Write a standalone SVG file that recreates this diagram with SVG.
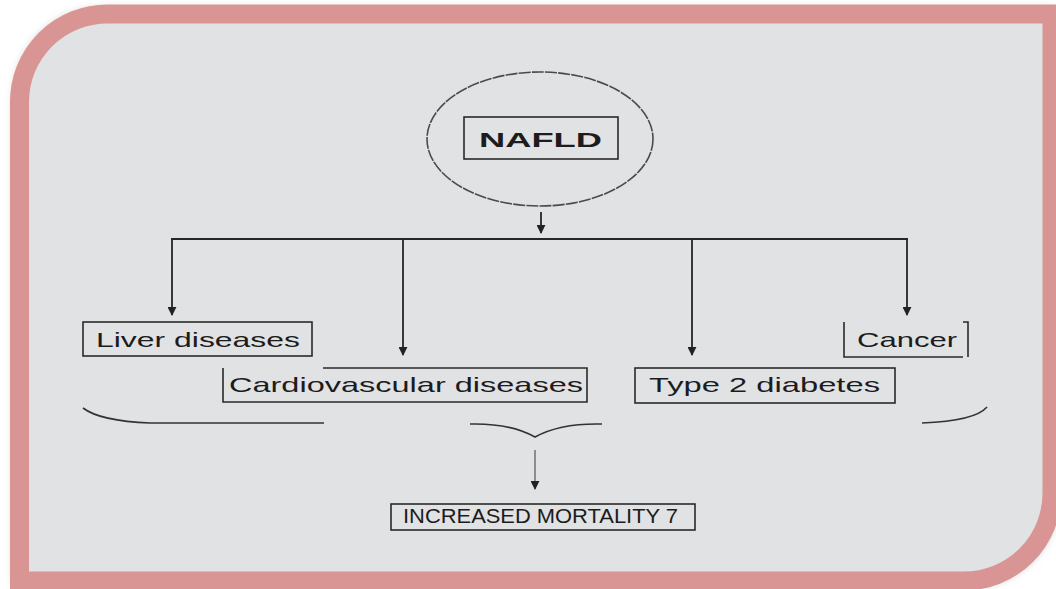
<svg xmlns="http://www.w3.org/2000/svg" width="1056" height="589" viewBox="0 0 1056 589">
<defs>
<filter id="sh" x="-5%" y="-5%" width="110%" height="110%"><feGaussianBlur stdDeviation="5"/></filter>
<marker id="ah" viewBox="0 0 10 10" refX="9" refY="5" markerWidth="9" markerHeight="9" markerUnits="userSpaceOnUse" orient="auto">
<path d="M0,0 L10,5 L0,10 Z" fill="#222"/>
</marker>
</defs>
<style>
.box{fill:none;stroke:#2a2a2a;stroke-width:1.6}
.lbl{font-family:"Liberation Sans",Arial,sans-serif;fill:#1c1c1c;font-size:21px}
.ln{fill:none;stroke:#262626;stroke-width:1.8}
.br{fill:none;stroke:#333;stroke-width:1.6}
</style>
<rect width="1056" height="589" fill="#ffffff"/>
<path d="M19.5,102 A88,88 0 0 1 107.5,14 H1060 V493 A88,88 0 0 1 972,589 H19.5 Z" fill="#a0a0a0" filter="url(#sh)" transform="translate(-4,-4)"/>
<path id="frame" d="M19.5,102 A88,88 0 0 1 107.5,14 H1052 V493 A88,88 0 0 1 964,581 H19.5 Z" fill="#e1e2e4" stroke="#d99594" stroke-width="19"/>
<g id="connectors">
<line class="ln" x1="541" y1="212" x2="541" y2="233" marker-end="url(#ah)"/>
<line class="ln" x1="171" y1="239" x2="908" y2="239"/>
<line class="ln" x1="172" y1="239" x2="172" y2="315" marker-end="url(#ah)"/>
<line class="ln" x1="403" y1="239" x2="403" y2="355" marker-end="url(#ah)"/>
<line class="ln" x1="692" y1="239" x2="692" y2="355" marker-end="url(#ah)"/>
<line class="ln" x1="907" y1="239" x2="907" y2="315" marker-end="url(#ah)"/>
<path class="br" d="M83,408 Q100,421 150,423 H324"/>
<path class="br" d="M922,423 Q975,421 987,407"/>
<path class="br" d="M470,424 Q510,423 535,437 Q560,423 602,424"/>
<line x1="535" y1="450" x2="535" y2="489" stroke="#555" stroke-width="1.2" marker-end="url(#ah)"/>
</g>
<g id="nafld">
<ellipse cx="540" cy="139" rx="113" ry="67" fill="none" stroke="#4a4a4a" stroke-width="1.6" stroke-dasharray="12 1.2"/>
<rect class="box" x="464" y="117" width="154" height="42"/>
<text class="lbl" x="479" y="147" font-size="25" font-weight="bold" textLength="123" lengthAdjust="spacingAndGlyphs">NAFLD</text>
</g>
<g id="liver">
<rect class="box" x="83" y="322" width="229" height="34"/>
<text class="lbl" x="96" y="347" textLength="204" lengthAdjust="spacingAndGlyphs">Liver diseases</text>
</g>
<g id="cardio">
<path class="box" d="M223,368 V402 H587 V368 H323"/>
<text class="lbl" x="229" y="392" textLength="354" lengthAdjust="spacingAndGlyphs">Cardiovascular diseases</text>
</g>
<g id="diabetes">
<rect class="box" x="635" y="368" width="260" height="35"/>
<text class="lbl" x="649" y="392" textLength="231" lengthAdjust="spacingAndGlyphs">Type 2 diabetes</text>
</g>
<g id="cancer">
<path class="box" d="M844,322 V357 H963 M963,322 H968 V357"/>
<text class="lbl" x="857" y="347" textLength="100" lengthAdjust="spacingAndGlyphs">Cancer</text>
</g>
<g id="mortality">
<rect class="box" x="391" y="504" width="304" height="26"/>
<text class="lbl" x="403" y="523" font-size="16" textLength="275" lengthAdjust="spacingAndGlyphs">INCREASED MORTALITY 7</text>
</g>
</svg>
